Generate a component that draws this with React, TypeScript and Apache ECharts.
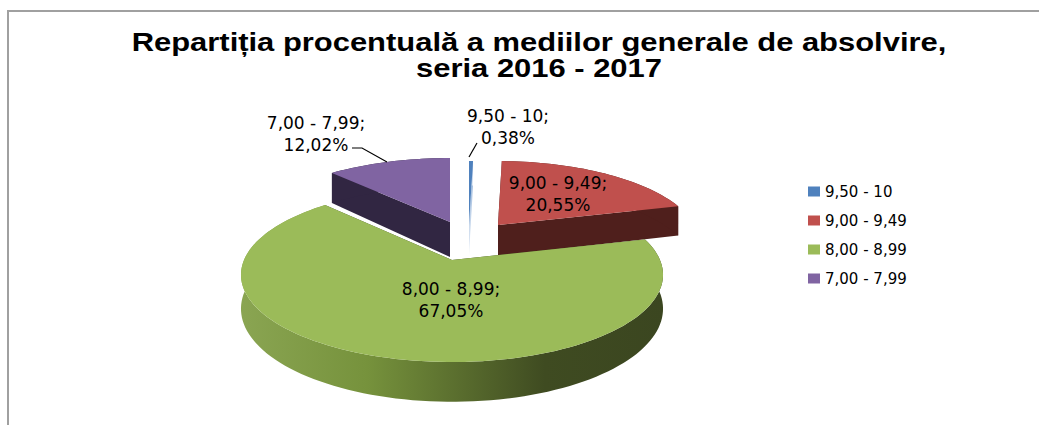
import React, { useEffect, useRef } from "react";
import * as echarts from "echarts";

const titleText = "Repartiția procentuală a mediilor generale de absolvire,\nseria 2016 - 2017";
const categories = ["9,50 - 10", "9,00 - 9,49", "8,00 - 8,99", "7,00 - 7,99"];
const percents = [0.38, 20.55, 67.05, 12.02];
const topColors = ["#4f81bd", "#c0504d", "#9bbb59", "#8064a2"];

// Presentation of each slice, by category index
const apexes = [[469, 225], [498, 225], [452, 260], [450, 222]];
const radiusX = [207, 197, 208, 201];
const radiusY = [78.6, 78.6, 84.8, 78.6];
const perspective = [0.229, 0.229, 0.169, 0.229];
const depths = [30, 31, 33, 35];
const labelAt = [[508, 127], [558, 194], [451, 300], [316, 134]];
const leaders: number[][][] = [
  [[477, 143], [469, 157]],
  [],
  [],
  [[352, 148], [362, 148], [387, 162]],
];
const drawOrder = [3, 0, 1, 2];

const FONT = '17px "DejaVu Sans"';

const sideColor = (i: number) => {
  if (i === 0) return new echarts.graphic.LinearGradient(0, 0, 0, 1, [
    { offset: 0, color: "#8fb0d8" },
    { offset: 1, color: "#e6edf6" },
  ]);
  if (i === 1) return "#4f1f1c";
  if (i === 3) return "#312642";
  return new echarts.graphic.LinearGradient(0, 0, 1, 0, [
    { offset: 0, color: "#8aa552" },
    { offset: 0.3, color: "#76923c" },
    { offset: 0.72, color: "#3f4b21" },
    { offset: 1, color: "#3b4620" },
  ]);
};

function project(i: number, deg: number, down = 0) {
  const a = apexes[i];
  const t = (deg * Math.PI) / 180;
  const u = Math.sin(t);
  const v = Math.cos(t);
  const s = 1 / (1 + perspective[i] * v);
  return [a[0] + radiusX[i] * u * s, a[1] - radiusY[i] * v * s + down * depths[i] * s];
}

const slices = (() => {
  const total = percents.reduce((p, c) => p + c, 0);
  let acc = 0;
  return percents.map((p) => {
    const start = (acc / total) * 360;
    acc += p;
    return { start, end: (acc / total) * 360 };
  });
})();

function renderSlice(i: number) {
  const { start, end } = slices[i];
  const a = apexes[i];
  const arc: number[][] = [];
  const arcLow: number[][] = [];
  const steps = Math.max(2, Math.ceil((end - start) / 2));
  for (let k = 0; k <= steps; k++) {
    const d = start + ((end - start) * k) / steps;
    arc.push(project(i, d));
    arcLow.push(project(i, d, 1));
  }
  const low = [a[0], a[1] + depths[i]];
  const side = sideColor(i);
  const children: any[] = [];
  // walls: the two cut faces, then the rim
  children.push({
    type: "polygon",
    shape: { points: [a, arc[0], arcLow[0], low] },
    style: { fill: i === 2 ? "#3b4620" : side },
  });
  children.push({
    type: "polygon",
    shape: { points: [a, arc[arc.length - 1], arcLow[arcLow.length - 1], low] },
    style: { fill: i === 2 ? "#3b4620" : side },
  });
  children.push({
    type: "polygon",
    shape: { points: [...arc, ...arcLow.slice().reverse()] },
    style: { fill: side },
  });
  children.push({
    type: "polygon",
    shape: { points: [a, ...arc] },
    style: { fill: topColors[i] },
  });
  if (leaders[i].length) {
    children.push({
      type: "polyline",
      shape: { points: leaders[i] },
      style: { stroke: "#000", lineWidth: 1.2, fill: "none" },
    });
  }
  children.push({
    type: "text",
    style: {
      text: `${categories[i]};\n${percents[i].toFixed(2).replace(".", ",")}%`,
      x: labelAt[i][0],
      y: labelAt[i][1],
      textAlign: "center",
      textVerticalAlign: "middle",
      font: FONT,
      lineHeight: 22,
      fill: "#000",
    },
  });
  return { type: "group", children };
}

export default function App() {
  const ref = useRef<HTMLDivElement>(null);
  useEffect(() => {
    const chart = echarts.init(ref.current!, undefined, { renderer: "svg" });
    chart.setOption({
      animation: false,
      backgroundColor: "#fff",
      legend: {
        orient: "vertical",
        left: 803,
        top: 177,
        icon: "rect",
        itemWidth: 12,
        itemHeight: 10,
        itemGap: 10,
        selectedMode: false,
        data: categories,
        textStyle: {
          fontFamily: '"DejaVu Sans"',
          fontSize: 15,
          color: "#000",
          lineHeight: 19,
        },
      },
      graphic: [
        { type: "line", shape: { x1: 7, y1: 11, x2: 1039, y2: 11 }, style: { stroke: "#a0a0a0", lineWidth: 2 } },
        { type: "line", shape: { x1: 8, y1: 10, x2: 8, y2: 425 }, style: { stroke: "#a0a0a0", lineWidth: 2 } },
        {
          type: "text",
          x: 539,
          y: 55,
          scaleX: 1.19,
          style: {
            text: titleText,
            textAlign: "center",
            textVerticalAlign: "middle",
            font: 'bold 26px "Liberation Sans"',
            lineHeight: 26,
            fill: "#000",
          },
        },
      ],
      series: drawOrder.map((i, n) => ({
        type: "custom",
        name: categories[i],
        coordinateSystem: "none",
        z: 2 + n,
        silent: true,
        itemStyle: { color: topColors[i] },
        data: [percents[i]],
        renderItem: () => renderSlice(i),
      })),
    });
    return () => chart.dispose();
  }, []);
  return (
    <div
      ref={ref}
      style={{ position: "absolute", left: 0, top: 0, width: 1039, height: 425 }}
    />
  );
}
